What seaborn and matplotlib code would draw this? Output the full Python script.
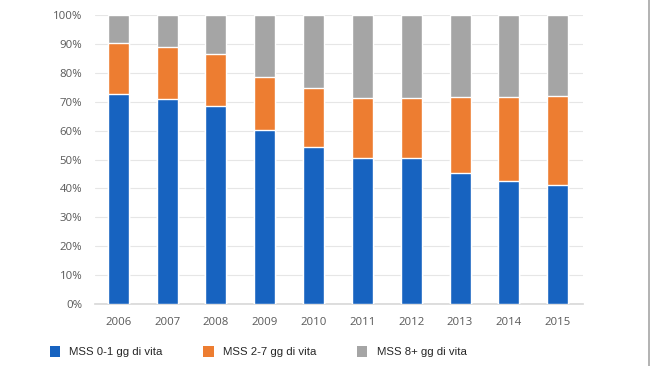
import numpy as np
import pandas as pd
import matplotlib
matplotlib.use('Agg')
import matplotlib.pyplot as plt
import seaborn as sns
from matplotlib.patches import Patch
from matplotlib.lines import Line2D
from matplotlib.ticker import PercentFormatter

# Dati (quote percentuali per anno)
anni = ['2006', '2007', '2008', '2009', '2010', '2011', '2012', '2013', '2014', '2015']
mss_0_1 = [72.7, 70.9, 68.5, 60.2, 54.4, 50.7, 50.4, 45.2, 42.6, 41.2]
mss_2_7 = [17.5, 18.1, 18.0, 18.5, 20.4, 20.7, 21.0, 26.5, 29.1, 30.9]
mss_8 = [9.8, 11.0, 13.5, 21.3, 25.2, 28.6, 28.6, 28.3, 28.3, 27.9]

etichette = ['MSS 0-1 gg di vita', 'MSS 2-7 gg di vita', 'MSS 8+ gg di vita']
colori = ['#1763C0', '#ED7D31', '#A5A5A5']

df = pd.DataFrame({'anno': anni, 'a': mss_0_1, 'b': mss_2_7, 'c': mss_8})
df['top_b'] = df['a'] + df['b']
df['top_c'] = df['top_b'] + df['c']

sns.set_theme(style='white')
plt.rcParams['font.family'] = ['Open Sans', 'DejaVu Sans']

fig = plt.figure(figsize=(6.5, 3.66), dpi=100)
ax = fig.add_axes([0.146, 0.169, 0.751, 0.790])

# barre impilate: si disegna il totale e poi si sovrappone
sns.barplot(data=df, x='anno', y='top_c', color=colori[2], width=0.43,
            saturation=1, ax=ax, zorder=3)
sns.barplot(data=df, x='anno', y='top_b', color=colori[1], width=0.43,
            saturation=1, ax=ax, zorder=3)
sns.barplot(data=df, x='anno', y='a', color=colori[0], width=0.43,
            saturation=1, ax=ax, zorder=3)

ax.set_ylim(0, 100)
ax.set_yticks(np.arange(0, 101, 10))
ax.yaxis.set_major_formatter(PercentFormatter(decimals=0))
ax.grid(axis='y', color='#e6e6e6', linewidth=0.8, zorder=0)
ax.set_xlim(-0.48, 9.52)
for s in ['top', 'right', 'left']:
    ax.spines[s].set_visible(False)
ax.spines['bottom'].set_color('#d9d9d9')
ax.set_xlabel('')
ax.set_ylabel('')
ax.tick_params(axis='both', labelsize=8.2, colors='#595959', length=0)
ax.tick_params(axis='x', pad=9)
ax.tick_params(axis='y', pad=9)

handles = [Patch(facecolor=c, edgecolor='none') for c in colori]
fig.legend(handles, etichette, loc='center', bbox_to_anchor=(0.397, 0.04),
           ncol=3, frameon=False, handlelength=0.9, handleheight=1.1,
           handletextpad=0.8, columnspacing=3.6,
           prop={'family': 'Liberation Sans', 'size': 8.2})

# bordo grigio a destra
fig.add_artist(Line2D([0.998, 0.998], [0, 1], transform=fig.transFigure,
                      color='#a6a6a6', linewidth=1.2))

fig.savefig('out.png', dpi=100, facecolor='white')
